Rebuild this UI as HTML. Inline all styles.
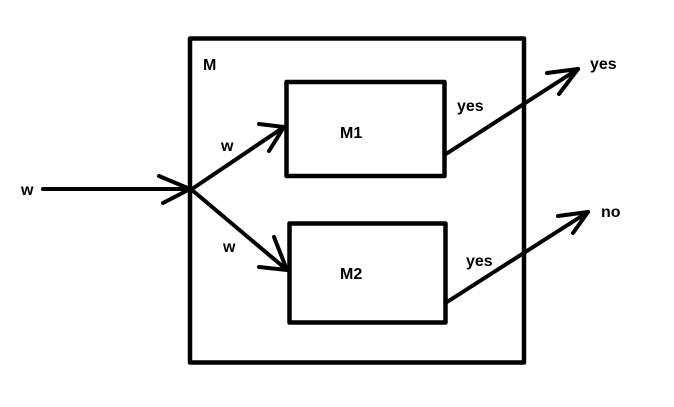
<!DOCTYPE html>
<html><head><style>html,body{margin:0;padding:0;background:#fff;}svg{display:block}text{font-family:"Liberation Sans",sans-serif;font-weight:bold;font-size:16px;fill:#000}</style></head>
<body>
<svg width="674" height="407" viewBox="0 0 674 407" xmlns="http://www.w3.org/2000/svg">
<g fill="none" stroke="#000" stroke-linecap="round" stroke-linejoin="round">
<rect x="190" y="38.5" width="334" height="324" stroke-width="4.5" stroke-linecap="butt"/>
<rect x="286.5" y="82" width="158" height="94" stroke-width="4.5"/>
<rect x="289.5" y="223.5" width="156" height="99" stroke-width="4.5"/>
<g stroke-width="4">
<path d="M43 189 L190 189"/>
<path d="M159 176 L190 189 L163 203"/>
<path d="M192 189 L284 127"/>
<path d="M259 124 L284 127 L269 151"/>
<path d="M192 190 L287 270"/>
<path d="M274 237 L287 270 L259 267"/>
<path d="M446 154 L578 69"/>
<path d="M547 73 L578 69 L559 94"/>
<path d="M447 302 L588 212"/>
<path d="M558 216 L588 212 L573 233"/>
</g>
</g>
<text x="203" y="70">M</text>
<text x="340" y="138">M1</text>
<text x="340" y="279">M2</text>
<text x="21" y="195">w</text>
<text x="221" y="151">w</text>
<text x="223" y="252">w</text>
<text x="457" y="111">yes</text>
<text x="466" y="266">yes</text>
<text x="590" y="69">yes</text>
<text x="601" y="217">no</text>
</svg>
</body></html>
